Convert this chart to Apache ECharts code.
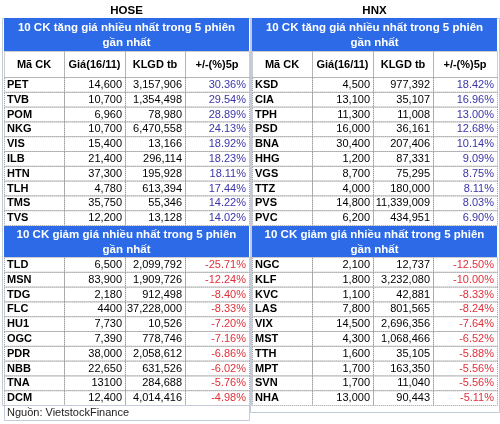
<!DOCTYPE html><html><head><meta charset="utf-8">
<script src="https://cdn.jsdelivr.net/npm/echarts@6/dist/echarts.min.js"></script>
<style>html,body{margin:0;padding:0;background:#fff}#c{width:500px;height:424px}</style></head><body><div id="c"></div>
<script>
const exchanges = ["HOSE","HNX"];
const headers = ["Mã CK","Giá(16/11)","KLGD tb","+/-(%)5p"];
const upTitle = ["10 CK tăng giá nhiều nhất trong 5 phiên","gần nhất"];
const downTitle = ["10 CK giảm giá nhiều nhất trong 5 phiên","gần nhất"];
const hoseUpCodes = ["PET","TVB","POM","NKG","VIS","ILB","HTN","TLH","TMS","TVS"];
const hoseUpPrice = ["14,600","10,700","6,960","10,700","15,400","21,400","37,300","4,780","35,750","12,200"];
const hoseUpVol = ["3,157,906","1,354,498","78,980","6,470,558","13,166","296,114","195,928","613,394","55,346","13,128"];
const hoseUpPct = ["30.36%","29.54%","28.89%","24.13%","18.92%","18.23%","18.11%","17.44%","14.22%","14.02%"];
const hnxUpCodes = ["KSD","CIA","TPH","PSD","BNA","HHG","VGS","TTZ","PVS","PVC"];
const hnxUpPrice = ["4,500","13,100","11,300","16,000","30,400","1,200","8,700","4,000","14,800","6,200"];
const hnxUpVol = ["977,392","35,107","11,008","36,161","207,406","87,331","75,295","180,000","11,339,009","434,951"];
const hnxUpPct = ["18.42%","16.96%","13.00%","12.68%","10.14%","9.09%","8.75%","8.11%","8.03%","6.90%"];
const hoseDownCodes = ["TLD","MSN","TDG","FLC","HU1","OGC","PDR","NBB","TNA","DCM"];
const hoseDownPrice = ["6,500","83,900","2,180","4400","7,730","7,390","38,000","22,650","13100","12,400"];
const hoseDownVol = ["2,099,792","1,909,726","912,498","37,228,000","10,526","778,746","2,058,612","631,526","284,688","4,014,416"];
const hoseDownPct = ["-25.71%","-12.24%","-8.40%","-8.33%","-7.20%","-7.16%","-6.86%","-6.02%","-5.76%","-4.98%"];
const hnxDownCodes = ["NGC","KLF","KVC","LAS","VIX","MST","TTH","MPT","SVN","NHA"];
const hnxDownPrice = ["2,100","1,800","1,100","7,800","14,500","4,300","1,600","1,700","1,700","13,000"];
const hnxDownVol = ["12,737","3,232,080","42,881","801,565","2,696,356","1,068,466","35,105","163,350","11,040","90,443"];
const hnxDownPct = ["-12.50%","-10.00%","-8.33%","-8.24%","-7.64%","-6.52%","-5.88%","-5.56%","-5.56%","-5.11%"];
const source = "Nguồn: VietstockFinance";

const panels = [
  {up:[hoseUpCodes,hoseUpPrice,hoseUpVol,hoseUpPct], down:[hoseDownCodes,hoseDownPrice,hoseDownVol,hoseDownPct]},
  {up:[hnxUpCodes,hnxUpPrice,hnxUpVol,hnxUpPct], down:[hnxDownCodes,hnxDownPrice,hnxDownVol,hnxDownPct]}
];
const colEdges = [0,60,121,181,245];
const items = [];
function add(x1,y1,x2,y2,o){items.push({value:[x1,y1,x2,y2],o:o});}
panels.forEach((p,pi)=>{
  const x0 = pi?252:4;
  add(x0,4,x0+colEdges[4],17,{text:exchanges[pi],align:'center',bold:true,size:11.5,color:'#000'});
  add(x0-2,18,x0+colEdges[4]+2,pi?412:405,{frame:true});
  add(x0,18,x0+colEdges[4],51,{fill:'#2c6ae8',text:upTitle.join('\n'),align:'center',bold:true,size:11.5,color:'#fff',lh:15});
  headers.forEach((h,c)=>add(x0+colEdges[c],51,x0+colEdges[c+1],77,{border:true,text:h,align:'center',bold:true,size:11,color:'#000'}));
  const rowH = 14.8;
  [[p.up,77],[p.down,257]].forEach(([cols,top],si)=>{
    if(si===1) add(x0,226,x0+colEdges[4],257,{fill:'#2c6ae8',text:downTitle.join('\n'),align:'center',bold:true,size:11.5,color:'#fff',lh:15});
    for(let r=0;r<10;r++){
      for(let c=0;c<4;c++){
        const y1=top+r*rowH;
        add(x0+colEdges[c],y1,x0+colEdges[c+1],y1+rowH,{border:true,text:cols[c][r],align:c?'right':'left',bold:c===0,size:11,
          color:c===3?(si?'#e0303a':'#3b35a8'):'#000'});
      }
    }
  });
});
add(4,405,249,420,{text:source,align:'left',size:11,color:'#222',box:true});

const chart = echarts.init(document.getElementById('c'),null,{renderer:'canvas'});
chart.setOption({
  animation:false,
  grid:{left:0,right:0,top:0,bottom:0},
  xAxis:{type:'value',min:0,max:500,show:false},
  yAxis:{type:'value',min:0,max:424,inverse:true,show:false},
  series:[{type:'custom',data:items,renderItem:(params,api)=>{
    const it=items[params.dataIndex], o=it.o, v=it.value;
    const a=api.coord([v[0],v[1]]), b=api.coord([v[2],v[3]]);
    const w=b[0]-a[0], h=b[1]-a[1];
    const ch=[];
    if(o.frame) ch.push({type:'rect',shape:{x:a[0]+.5,y:a[1]+.5,width:w,height:h},style:{fill:null,stroke:'#c3cad8',lineWidth:1}});
    if(o.fill) ch.push({type:'rect',shape:{x:a[0],y:a[1],width:w,height:h},style:{fill:o.fill}});
    if(o.border) ch.push({type:'rect',shape:{x:a[0]+.5,y:a[1]+.5,width:w,height:h},style:{fill:null,stroke:'#9a9a9a',lineWidth:1,lineDash:[1,1]}});
    if(o.box) ch.push({type:'rect',shape:{x:a[0]+.5,y:a[1]+.5,width:w,height:h},style:{fill:null,stroke:'#c3cad8',lineWidth:1}});
    if(o.text!==undefined){
      const tx=o.align==='center'?a[0]+w/2:o.align==='right'?b[0]-3:a[0]+3;
      ch.push({type:'text',x:tx,y:a[1]+h/2+0.5,style:{text:o.text,align:o.align,verticalAlign:'middle',
        font:(o.bold?'bold ':'')+o.size+'px "Liberation Sans", Arial, sans-serif',fill:o.color,lineHeight:o.lh||o.size+2}});
    }
    return {type:'group',children:ch};
  }}]
});
</script></body></html>
